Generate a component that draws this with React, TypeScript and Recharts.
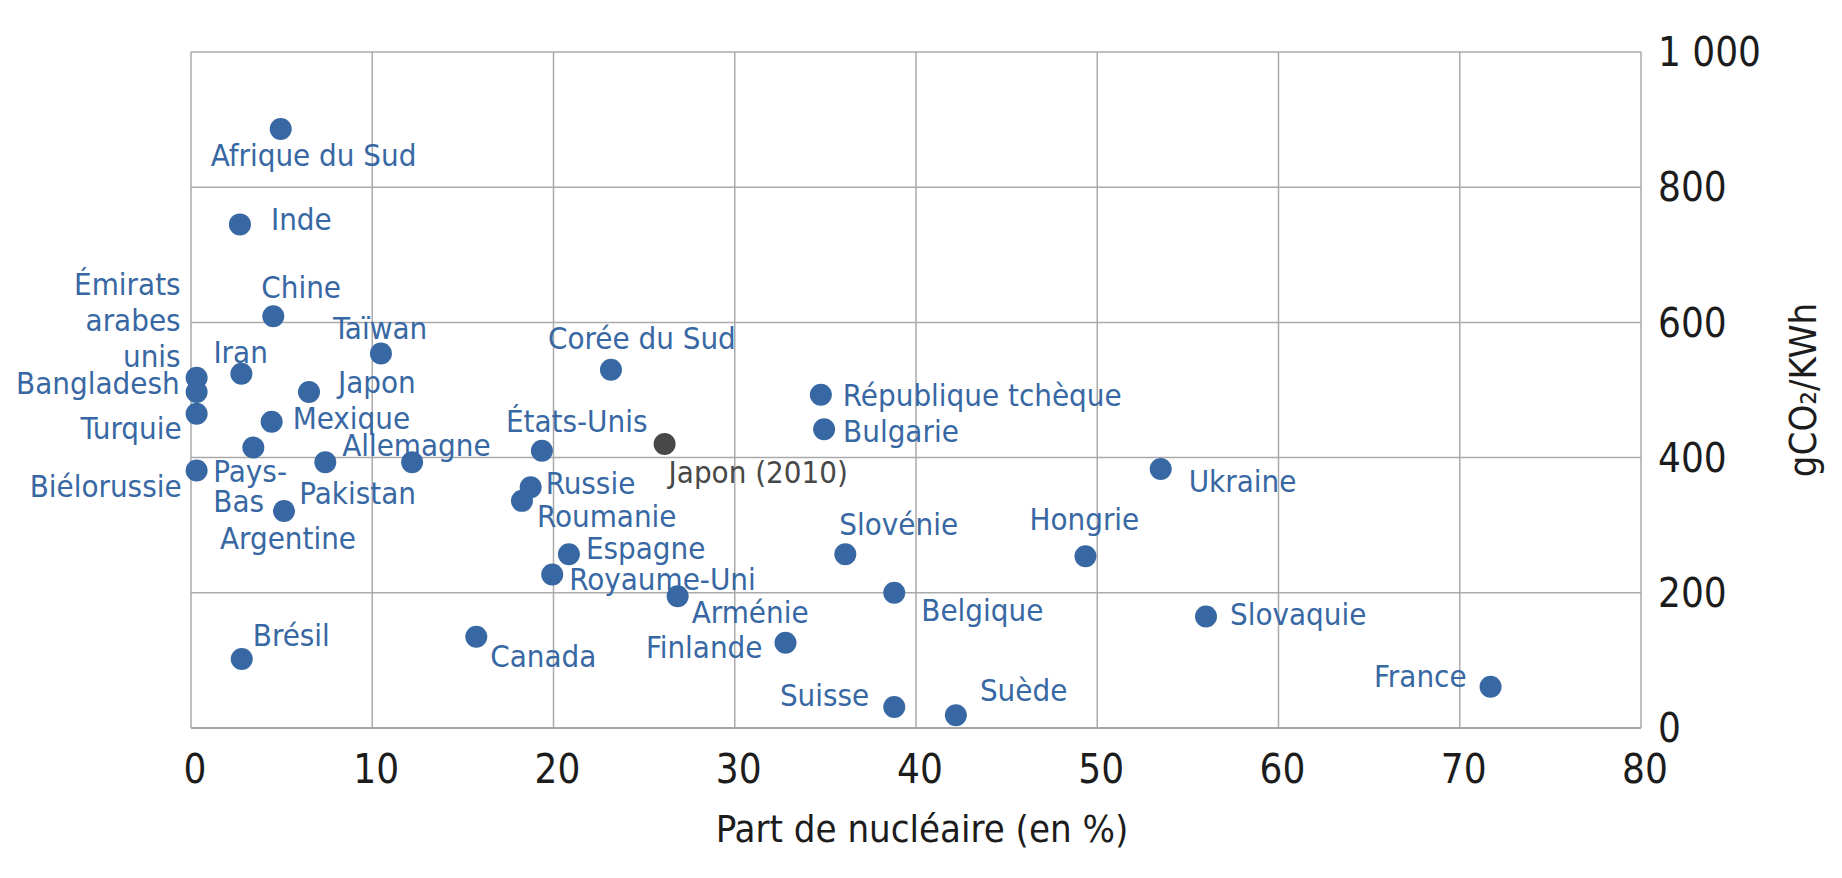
import { ScatterChart, Scatter, XAxis, YAxis, CartesianGrid } from "recharts";

// Part du nucléaire (%) et intensité carbone (gCO2/kWh) par pays
const countries = [
  "Afrique du Sud",
  "Inde",
  "Chine",
  "Taïwan",
  "Iran",
  "Émirats arabes unis",
  "Bangladesh",
  "Japon",
  "Corée du Sud",
  "Turquie",
  "Mexique",
  "Pays-Bas",
  "Allemagne",
  "Pakistan",
  "Biélorussie",
  "Argentine",
  "États-Unis",
  "Russie",
  "Roumanie",
  "Espagne",
  "Royaume-Uni",
  "Arménie",
  "Canada",
  "Finlande",
  "Brésil",
  "Suisse",
  "Suède",
  "Slovénie",
  "Belgique",
  "République tchèque",
  "Bulgarie",
  "Hongrie",
  "Ukraine",
  "Slovaquie",
  "France",
];

const nuclearShare = [
  4.95, 2.7, 4.54, 10.48, 2.78, 0.31, 0.31, 6.51, 23.17, 0.31, 4.45, 3.44,
  12.2, 7.41, 0.31, 5.13, 19.36, 18.74, 18.26, 20.85, 19.93, 26.85, 15.74,
  32.8, 2.8, 38.8, 42.2, 36.1, 38.8, 34.75, 34.93, 49.35, 53.5, 56.0, 71.7,
];

const co2PerKwh = [
  886, 745, 609, 554, 524, 518, 497, 497, 530, 465, 453, 415, 393, 393, 381,
  321, 410, 356, 336, 257, 227, 195, 135, 126, 102, 31, 19, 257, 200, 493,
  442, 254, 383, 165, 61,
];

// point de référence
const refNames = ["Japon (2010)"];
const refShare = [26.13];
const refCo2 = [420];

const xTicks = [0, 10, 20, 30, 40, 50, 60, 70, 80];
const yTicks = [0, 200, 400, 600, 800, 1000];

const FONT = "'DejaVu Sans Condensed', 'DejaVu Sans', sans-serif";
const BLUE = "#3868a3";
const GREY = "#484848";
const INK = "#1c1c1c";

const countryData = countries.map((name, i) => ({
  name,
  x: nuclearShare[i],
  y: co2PerKwh[i],
}));

const refData = refNames.map((name, i) => ({
  name,
  x: refShare[i],
  y: refCo2[i],
}));

type Placement = {
  anchor: "start" | "end";
  dx: number;
  dy: number[];
  lines?: string[];
};

// where each label sits relative to its dot
const placement: Record<string, Placement> = {
  "Afrique du Sud": { anchor: "start", dx: -70, dy: [26] },
  Inde: { anchor: "start", dx: 31, dy: [-6] },
  Chine: { anchor: "start", dx: -12, dy: [-29] },
  Taïwan: { anchor: "start", dx: -48, dy: [-26] },
  Iran: { anchor: "start", dx: -28, dy: [-22] },
  "Émirats arabes unis": {
    anchor: "end",
    dx: -16,
    dy: [-94, -58, -22],
    lines: ["Émirats", "arabes", "unis"],
  },
  Bangladesh: { anchor: "end", dx: -17, dy: [-9] },
  Japon: { anchor: "start", dx: 29, dy: [-10] },
  "Corée du Sud": { anchor: "start", dx: -63, dy: [-32] },
  Turquie: { anchor: "end", dx: -15, dy: [14] },
  Mexique: { anchor: "start", dx: 21, dy: [-4] },
  "Pays-Bas": {
    anchor: "start",
    dx: -40,
    dy: [23, 53],
    lines: ["Pays-", "Bas"],
  },
  Allemagne: { anchor: "start", dx: -70, dy: [-17] },
  Pakistan: { anchor: "start", dx: -26, dy: [31] },
  Biélorussie: { anchor: "end", dx: -15, dy: [15] },
  Argentine: { anchor: "start", dx: -64, dy: [27] },
  "États-Unis": { anchor: "start", dx: -36, dy: [-30] },
  "Japon (2010)": { anchor: "start", dx: 4, dy: [28] },
  Russie: { anchor: "start", dx: 15, dy: [-5] },
  Roumanie: { anchor: "start", dx: 15, dy: [15] },
  Espagne: { anchor: "start", dx: 17, dy: [-6] },
  "Royaume-Uni": { anchor: "start", dx: 17, dy: [4] },
  Arménie: { anchor: "start", dx: 14, dy: [16] },
  Canada: { anchor: "start", dx: 14, dy: [19] },
  Finlande: { anchor: "end", dx: -23, dy: [4] },
  Brésil: { anchor: "start", dx: 11, dy: [-24] },
  Suisse: { anchor: "end", dx: -25, dy: [-12] },
  Suède: { anchor: "start", dx: 24, dy: [-25] },
  Slovénie: { anchor: "start", dx: -6, dy: [-30] },
  Belgique: { anchor: "start", dx: 27, dy: [17] },
  "République tchèque": { anchor: "start", dx: 22, dy: [0] },
  Bulgarie: { anchor: "start", dx: 19, dy: [2] },
  Hongrie: { anchor: "start", dx: -56, dy: [-37] },
  Ukraine: { anchor: "start", dx: 28, dy: [12] },
  Slovaquie: { anchor: "start", dx: 24, dy: [-3] },
  France: { anchor: "end", dx: -24, dy: [-11] },
};

function makeDot(color: string) {
  return (props: any) => {
    const { cx, cy, payload } = props;
    const p = placement[payload.name] ?? { anchor: "start", dx: 16, dy: [0] };
    const lines = p.lines ?? [payload.name];
    return (
      <g>
        <circle cx={cx} cy={cy} r={11} fill={color} />
        {lines.map((line, i) => (
          <text
            key={i}
            x={cx + p.dx}
            y={cy + p.dy[i]}
            dy="0.36em"
            textAnchor={p.anchor}
            fill={color}
            fontSize={31}
            fontFamily={FONT}
            style={{ fontStretch: "condensed" }}
          >
            {line}
          </text>
        ))}
      </g>
    );
  };
}

function XTitle({ viewBox }: any) {
  return (
    <text
      x={viewBox.x + viewBox.width / 2 + 6}
      y={viewBox.y + 114}
      textAnchor="middle"
      fill={INK}
      fontSize={38}
      fontFamily={FONT}
      style={{ fontStretch: "condensed" }}
    >
      Part de nucléaire (en %)
    </text>
  );
}

function YTitle({ viewBox }: any) {
  const x = viewBox.x + 161;
  const y = viewBox.y + viewBox.height / 2;
  return (
    <text
      x={x}
      y={y}
      dy="0.36em"
      transform={`rotate(-90 ${x} ${y})`}
      textAnchor="middle"
      fill={INK}
      fontSize={38}
      fontFamily={FONT}
      style={{ fontStretch: "condensed" }}
    >
      gCO₂/KWh
    </text>
  );
}

const tickStyle = {
  fill: INK,
  fontSize: 40,
  fontFamily: FONT,
  style: { fontStretch: "condensed" },
};

export default function App() {
  return (
    <div style={{ width: 1834, height: 870 }}>
      <ScatterChart
        width={1834}
        height={870}
        margin={{ top: 44, right: 1, bottom: 0, left: 183 }}
      >
        <CartesianGrid stroke="#aaaaaa" strokeWidth={1.5} />
        <XAxis
          type="number"
          dataKey="x"
          domain={[0, 80]}
          ticks={xTicks}
          interval={0}
          height={150}
          tickLine={false}
          axisLine={{ stroke: "#a6a6a6", strokeWidth: 2 }}
          tickSize={6}
          tickMargin={21}
          tick={{ ...tickStyle, dx: 4 }}
          label={{ content: XTitle }}
        />
        <YAxis
          type="number"
          dataKey="y"
          orientation="right"
          domain={[0, 1000]}
          ticks={yTicks}
          interval={0}
          width={200}
          tickLine={false}
          axisLine={false}
          tickSize={6}
          tickMargin={11}
          tick={tickStyle}
          tickFormatter={(v: number) => (v === 1000 ? "1\u00a0000" : String(v))}
          label={{ content: YTitle }}
        />
        <Scatter
          data={countryData}
          shape={makeDot(BLUE)}
          isAnimationActive={false}
        />
        <Scatter
          data={refData}
          shape={makeDot(GREY)}
          isAnimationActive={false}
        />
      </ScatterChart>
    </div>
  );
}
